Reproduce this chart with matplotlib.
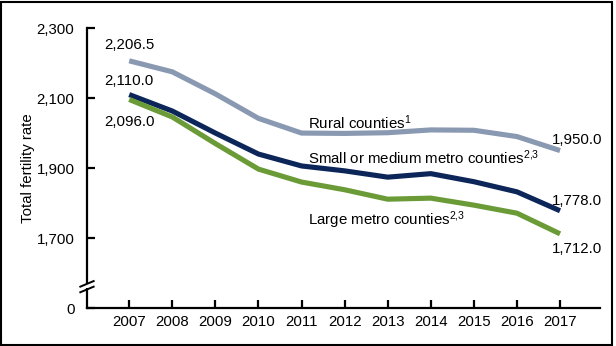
import matplotlib.pyplot as plt
from matplotlib.patches import Rectangle

# ------------------------
# Data
# ------------------------
years = [2007, 2008, 2009, 2010, 2011, 2012, 2013, 2014, 2015, 2016, 2017]
rural = [2206.5, 2175, 2112, 2042, 2000, 1999, 2001, 2009, 2008, 1990, 1950.0]
small_medium = [2110.0, 2063, 2000, 1940, 1906, 1892, 1874, 1884, 1861, 1832, 1778.0]
large_metro = [2096.0, 2046, 1970, 1897, 1860, 1838, 1811, 1814, 1794, 1771, 1712.0]

ytick_values = [1500, 1700, 1900, 2100, 2300]   # 1500 stands in for the broken-axis zero
ytick_labels = ["0", "1,700", "1,900", "2,100", "2,300"]

plt.rcParams["font.family"] = ["Liberation Sans", "DejaVu Sans"]
plt.rcParams["mathtext.fontset"] = "custom"
plt.rcParams["mathtext.rm"] = "Liberation Sans"
plt.rcParams["mathtext.default"] = "regular"

FS = 10.8

fig = plt.figure(figsize=(6.16, 3.46), dpi=100)
ax = fig.add_axes([0.1412, 0.1098, 0.833, 0.809])

ax.plot(years, rural, color="#8a99b2", linewidth=3.7, solid_capstyle="butt")
ax.plot(years, small_medium, color="#0c2659", linewidth=3.7, solid_capstyle="butt")
ax.plot(years, large_metro, color="#6b9b37", linewidth=3.7, solid_capstyle="butt")

ax.set_xlim(2006.02, 2017.93)
ax.set_ylim(1500, 2300)
ax.set_xticks(years)
ax.set_yticks(ytick_values)
ax.set_yticklabels(ytick_labels)

for side in ["top", "right"]:
    ax.spines[side].set_visible(False)
for side in ["left", "bottom"]:
    ax.spines[side].set_linewidth(1.6)
ax.tick_params(axis="both", direction="in", length=6, width=1.6, labelsize=FS)
ax.tick_params(axis="x", pad=5)
ax.tick_params(axis="y", pad=9)
ax.set_ylabel("Total fertility rate", fontsize=FS, labelpad=1)

# ------------------------
# Value labels
# ------------------------
ax.text(2007, rural[0] + 45, "2,206.5", ha="center", va="center", fontsize=FS)
ax.text(2007, small_medium[0] + 40, "2,110.0", ha="center", va="center", fontsize=FS)
ax.text(2007, large_metro[0] - 63, "2,096.0", ha="center", va="center", fontsize=FS)
ax.text(2017.4, rural[-1] + 30, "1,950.0", ha="center", va="center", fontsize=FS)
ax.text(2017.4, small_medium[-1] + 28, "1,778.0", ha="center", va="center", fontsize=FS)
ax.text(2017.4, large_metro[-1] - 42, "1,712.0", ha="center", va="center", fontsize=FS)

# ------------------------
# Series labels
# ------------------------
ax.text(2011.15, 2030, r"Rural counties$^{1}$", ha="left", va="center", fontsize=FS)
ax.text(2011.15, 1930, r"Small or medium metro counties$^{2{,}3}$", ha="left", va="center", fontsize=FS)
ax.text(2011.15, 1752, r"Large metro counties$^{2{,}3}$", ha="left", va="center", fontsize=FS)

# ------------------------
# Axis break marks
# ------------------------
trans = ax.get_yaxis_transform()
ax.add_patch(Rectangle((-0.01, 1556), 0.02, 13, transform=trans, facecolor="white",
                       edgecolor="none", clip_on=False, zorder=5))
for yb in [1553, 1569]:
    ax.plot([-0.013, 0.013], [yb - 8, yb + 8], transform=trans, color="black",
            linewidth=1.4, clip_on=False, zorder=6)

# ------------------------
# Image border
# ------------------------
fig.patches.append(Rectangle((0.002, 0.004), 0.991, 0.99, transform=fig.transFigure,
                             fill=False, edgecolor="black", linewidth=1.5))

fig.savefig("out.png", dpi=100)
